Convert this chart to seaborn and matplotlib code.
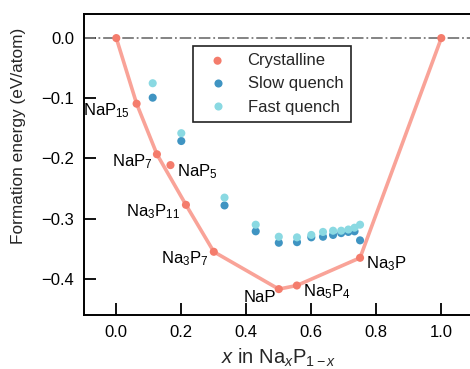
import numpy as np
import pandas as pd
import matplotlib
matplotlib.use("Agg")
import matplotlib.pyplot as plt
import seaborn as sns

# Crystalline phases of the Na-P system
cryst_labels = ["", "NaP$_{15}$", "NaP$_7$", "NaP$_5$", "Na$_3$P$_{11}$",
                "Na$_3$P$_7$", "NaP", "Na$_5$P$_4$", "Na$_3$P", ""]
cryst_x = [0.0, 1 / 16, 1 / 8, 1 / 6, 3 / 14, 0.3, 0.5, 5 / 9, 0.75, 1.0]
cryst_e = [0.0, -0.109, -0.193, -0.211, -0.277, -0.355, -0.417, -0.411, -0.365, 0.0]
on_hull = [True, True, True, False, True, True, True, True, True, True]

# Amorphous structures from melt-quench runs
quench_x = [0.112, 0.2, 0.333, 0.429, 0.5, 0.556, 0.6, 0.636, 0.667, 0.692, 0.714, 0.733, 0.75]
slow_e = [-0.099, -0.171, -0.278, -0.321, -0.340, -0.339, -0.331, -0.330, -0.327,
          -0.324, -0.322, -0.321, -0.336]
fast_e = [-0.075, -0.158, -0.265, -0.310, -0.330, -0.331, -0.327, -0.322, -0.320,
          -0.320, -0.318, -0.315, -0.310]

# Label offsets (points) and alignment for each phase name
label_dx = [0, -4.5, -3, 4.5, -4.5, -4, -2, 4.5, 4.5, 0]
label_dy = [0, -5, -5.5, -4.5, -5, -5, -6, -4.5, -4.5, 0]
label_ha = ["left", "right", "right", "left", "right", "right", "right", "left", "left", "left"]

c_cryst = "#f47c6c"
c_line = "#f9a398"
c_slow = "#3f94c2"
c_fast = "#8ad9e2"

sns.set_theme(style="ticks")
plt.rcParams["font.family"] = ["Liberation Sans", "DejaVu Sans"]
plt.rcParams["mathtext.fontset"] = "custom"
plt.rcParams["mathtext.rm"] = "Liberation Sans"
plt.rcParams["mathtext.it"] = "Liberation Sans:italic"

cryst = pd.DataFrame({"x": cryst_x, "e": cryst_e, "hull": on_hull, "label": cryst_labels})
hull = cryst[cryst["hull"]]
quench = pd.DataFrame({
    "x": quench_x * 2,
    "e": slow_e + fast_e,
    "kind": ["Slow quench"] * len(quench_x) + ["Fast quench"] * len(quench_x),
})

fig = plt.figure(figsize=(4.7, 3.69), dpi=100)
ax = fig.add_axes([83.8 / 470, 54 / 369, 390 / 470, 301 / 369])

ax.axhline(0, color="#7a7a7a", lw=1.3, ls="-.", zorder=1)
sns.lineplot(data=hull, x="x", y="e", color=c_line, lw=2.6, ax=ax, zorder=2,
             sort=False, legend=False)
sns.scatterplot(data=cryst, x="x", y="e", color=c_cryst, s=34, edgecolor="none",
                ax=ax, zorder=3, label="Crystalline")
sns.scatterplot(data=quench, x="x", y="e", hue="kind",
                palette={"Slow quench": c_slow, "Fast quench": c_fast},
                s=34, edgecolor="none", ax=ax, zorder=3)

for lab, x, e, dx, dy, ha in zip(cryst_labels, cryst_x, cryst_e, label_dx, label_dy, label_ha):
    if lab:
        ax.annotate(lab, (x, e), xytext=(dx, dy), textcoords="offset points",
                    ha=ha, va="center", fontsize=12, color="black")

ax.set_xlim(-0.1, 1.1)
ax.set_ylim(-0.46, 0.04)
ax.set_xticks([0.0, 0.2, 0.4, 0.6, 0.8, 1.0])
ax.set_yticks([0.0, -0.1, -0.2, -0.3, -0.4])
ax.set_xlabel("$x$ in Na$_x$P$_{1-x}$", fontsize=14.5)
ax.set_ylabel("Formation energy (eV/atom)", fontsize=12.4)
ax.xaxis.set_label_coords(0.5, -0.105)
ax.yaxis.set_label_coords(-0.147, 0.595)
ax.tick_params(direction="in", length=8.5, width=1.3, labelsize=12, colors="black",
               pad=7)
ax.spines["right"].set_visible(False)
for sp in ax.spines.values():
    sp.set_color("black")
    sp.set_linewidth(1.4)

leg = ax.legend(loc="upper left", bbox_to_anchor=(0.281, 0.895), borderaxespad=0,
                fontsize=12, frameon=True, fancybox=False, framealpha=1,
                edgecolor="#222222", labelspacing=0.5, borderpad=0.45)
leg.get_frame().set_linewidth(1.2)

fig.savefig("out.png", dpi=100)
